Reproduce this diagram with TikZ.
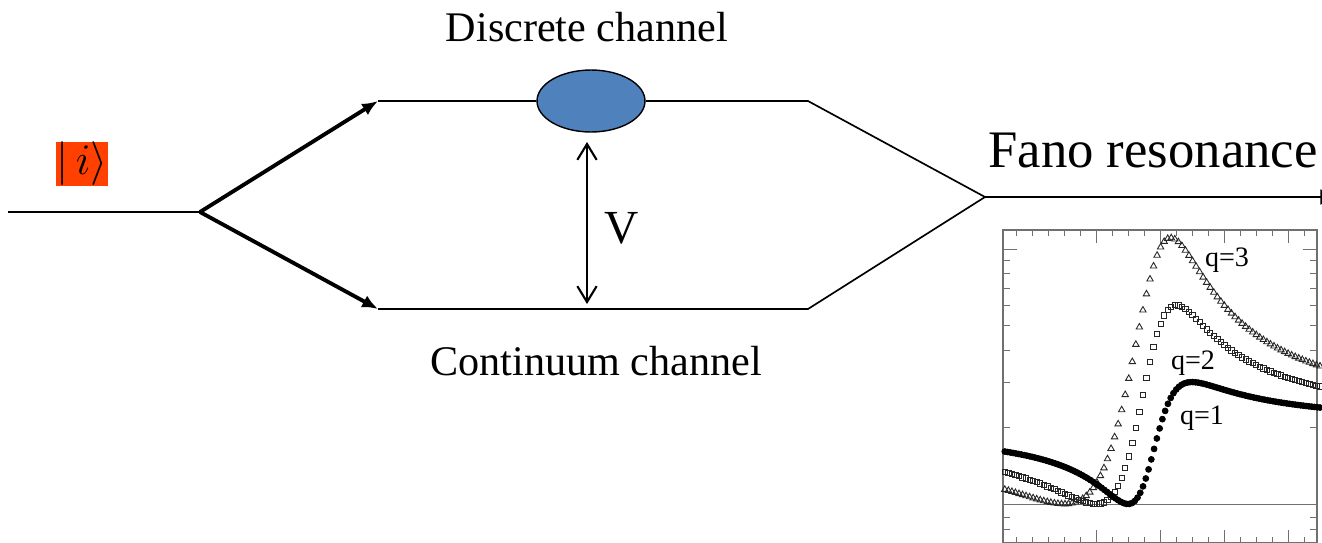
\documentclass[tikz,border=0pt]{standalone}
\usepackage{fontspec}
\setmainfont{Liberation Serif}
\usetikzlibrary{positioning, arrows.meta, shapes.geometric, plotmarks}
\definecolor{chanblue}{HTML}{4F81BD}
\definecolor{statered}{HTML}{FF4000}
\definecolor{axisgray}{HTML}{707070}

\begin{document}
\begin{tikzpicture}[
  x=0.02cm, y=-0.02cm,
  wire/.style={line width=0.95pt},
  branch/.style={line width=2.2pt, -{Latex[length=9pt,width=7.5pt]}},
  lbl/.style={font=\fontsize{24}{28}\selectfont, inner sep=0pt},
  level/.style={ellipse, draw, line width=0.8pt, fill=chanblue, minimum width=2.16cm, minimum height=1.24cm, inner sep=0pt},
  ket/.style={fill=statered, minimum width=1.04cm, minimum height=0.86cm, inner sep=0pt, font=\fontsize{27}{30}\selectfont},
  qlbl/.style={font=\fontsize{16}{18}\selectfont, inner sep=0pt},
  axtick/.style={axisgray, line width=0.5pt}
]
\useasboundingbox (0,0) rectangle (1322,542);

% two paths
\node[ket] (init) at (82,164) {$|\,i\rangle$};
\coordinate (src) at (8,212);
\coordinate (split) at (200,212);
\coordinate (upin) at (378,101);
\coordinate (lowin) at (378,309);
\node[level] (disc) at (591,101) {};
\coordinate (upout) at (808,101);
\coordinate (lowout) at (808,309);
\coordinate (merge) at (985,197);
\coordinate (out) at (1338,197);
\coordinate (vtop) at (587,142);
\coordinate (vbot) at (587,304);

\draw[wire] (src) -- (split);
\draw[branch] (split) -- (upin);
\draw[branch] (split) -- (lowin);
\draw[wire] (upin) -- (disc) -- (upout) -- (merge);
\draw[wire] (lowin) -- (lowout) -- (merge);
\draw[wire, -{Triangle[length=10pt,width=8.5pt]}] (merge) -- (out);
\draw[line width=1.2pt, {Straight Barb[length=9pt,width=11pt]}-{Straight Barb[length=9pt,width=11pt]}] (vtop) -- (vbot);

\node[lbl] (disclbl) at (587,27) {Discrete channel};
\node[lbl] (contlbl) at (596,361) {Continuum channel};
\node[lbl, font=\fontsize{27}{30}\selectfont] (vlbl) at (622,228) {V};
\node[lbl, font=\fontsize{30}{34}\selectfont] (fano) at (1153,150) {Fano resonance};

% inset: Fano profiles, log(1+F) axis
\begin{scope}[shift={(1160,504)}]
  \draw[axisgray, line width=0.4pt] (-157,0) -- (157,0);
  \draw[axisgray, line width=0.6pt] (-157,-274) rectangle (157,39);
  \foreach \t in {-4.5,-4,...,4.6} {
    \draw[axtick] (32*\t,-274) -- ++(0,6);
    \draw[axtick] (32*\t,39) -- ++(0,-6);
  }
  \foreach \t in {-2,0,2,4} {
    \draw[axtick] (32*\t,-274) -- ++(0,13);
    \draw[axtick] (32*\t,39) -- ++(0,-13);
  }
  \foreach \f in {1,...,8} {
    \draw[axtick] (-157,{-111*ln(1+\f)}) -- ++(7,0);
    \draw[axtick] (157,{-111*ln(1+\f)}) -- ++(-7,0);
  }
  \foreach \h in {-255,0} {
    \draw[axtick] (-157,\h) -- ++(14,0);
    \draw[axtick] (157,\h) -- ++(-14,0);
  }
  \foreach \h in {13,25} {
    \draw[axtick] (-157,\h) -- ++(7,0);
    \draw[axtick] (157,\h) -- ++(-7,0);
  }
  \draw[only marks, mark=triangle, mark size=2.1pt, mark options={line width=0.5pt, draw=black!85}, domain=-4.85:5, samples=90]
    plot ({32*\x},{-111*ln(1+(3+\x)*(3+\x)/(1+(\x)*(\x)))});
  \draw[only marks, mark=square, mark size=1.5pt, mark options={line width=0.5pt, draw=black!85}, domain=-4.85:5, samples=90]
    plot ({32*\x},{-111*ln(1+(2+\x)*(2+\x)/(1+(\x)*(\x)))});
  \draw[only marks, mark=*, mark size=1.7pt, domain=-4.85:5, samples=115]
    plot ({32*\x},{-111*ln(1+(1+\x)*(1+\x)/(1+(\x)*(\x)))});
\end{scope}
\node[qlbl] (q3) at (1227,260) {q=3};
\node[qlbl] (q2) at (1193,363) {q=2};
\node[qlbl] (q1) at (1202,418) {q=1};
\end{tikzpicture}
\end{document}
